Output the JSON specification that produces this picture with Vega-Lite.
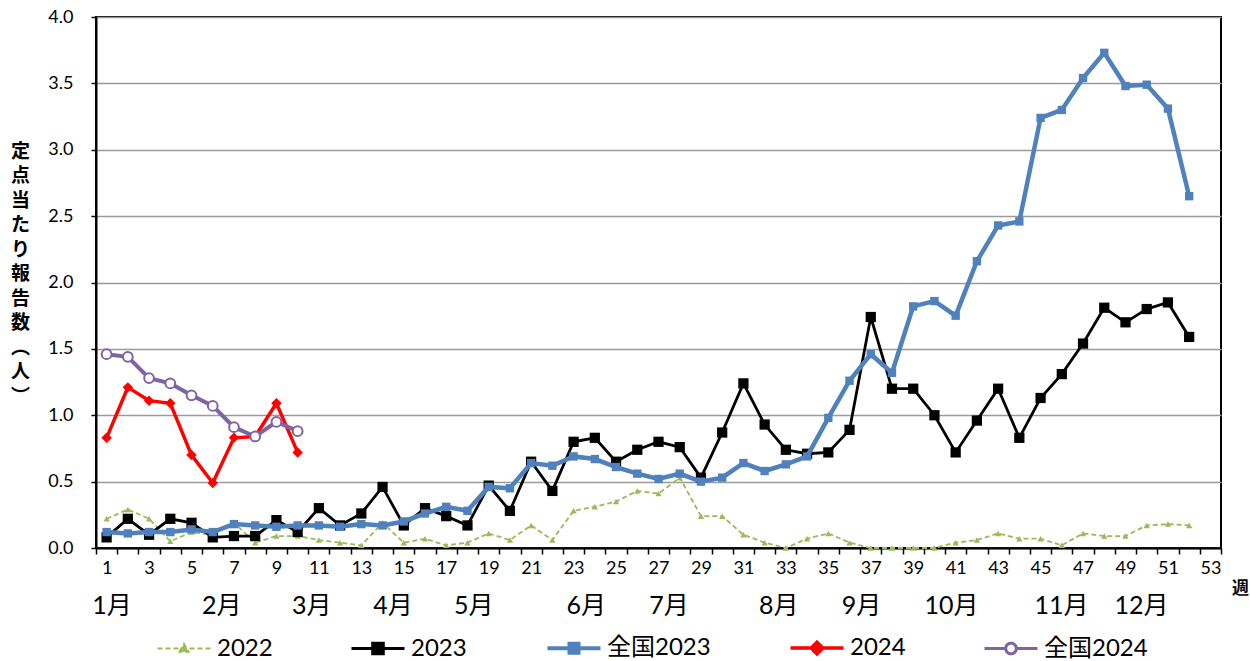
{
  "$schema": "https://vega.github.io/schema/vega-lite/v6.json",
  "autosize": {"type": "none"},
  "padding": {"left": 96, "top": 17, "right": 29, "bottom": 113},
  "width": 1125,
  "height": 531,
  "background": "white",
  "config": {
    "font": "Lato, Noto Sans CJK JP, sans-serif",
    "view": {"stroke": "#000000", "strokeWidth": 2}
  },
  "datasets": {
    "series": [
      {"week":1,"series":"2022","value":0.22},{"week":2,"series":"2022","value":0.29},{"week":3,"series":"2022","value":0.22},{"week":4,"series":"2022","value":0.05},{"week":5,"series":"2022","value":0.12},{"week":6,"series":"2022","value":0.10},{"week":7,"series":"2022","value":0.19},{"week":8,"series":"2022","value":0.04},{"week":9,"series":"2022","value":0.09},{"week":10,"series":"2022","value":0.09},{"week":11,"series":"2022","value":0.06},{"week":12,"series":"2022","value":0.04},{"week":13,"series":"2022","value":0.02},{"week":14,"series":"2022","value":0.19},{"week":15,"series":"2022","value":0.04},{"week":16,"series":"2022","value":0.07},{"week":17,"series":"2022","value":0.02},{"week":18,"series":"2022","value":0.04},{"week":19,"series":"2022","value":0.11},{"week":20,"series":"2022","value":0.06},{"week":21,"series":"2022","value":0.17},{"week":22,"series":"2022","value":0.06},{"week":23,"series":"2022","value":0.28},{"week":24,"series":"2022","value":0.31},{"week":25,"series":"2022","value":0.35},{"week":26,"series":"2022","value":0.43},{"week":27,"series":"2022","value":0.41},{"week":28,"series":"2022","value":0.53},{"week":29,"series":"2022","value":0.24},{"week":30,"series":"2022","value":0.24},{"week":31,"series":"2022","value":0.10},{"week":32,"series":"2022","value":0.04},{"week":33,"series":"2022","value":0.00},{"week":34,"series":"2022","value":0.07},{"week":35,"series":"2022","value":0.11},{"week":36,"series":"2022","value":0.04},{"week":37,"series":"2022","value":0.00},{"week":38,"series":"2022","value":0.00},{"week":39,"series":"2022","value":0.00},{"week":40,"series":"2022","value":0.00},{"week":41,"series":"2022","value":0.04},{"week":42,"series":"2022","value":0.06},{"week":43,"series":"2022","value":0.11},{"week":44,"series":"2022","value":0.07},{"week":45,"series":"2022","value":0.07},{"week":46,"series":"2022","value":0.02},{"week":47,"series":"2022","value":0.11},{"week":48,"series":"2022","value":0.09},{"week":49,"series":"2022","value":0.09},{"week":50,"series":"2022","value":0.17},{"week":51,"series":"2022","value":0.18},{"week":52,"series":"2022","value":0.17},
      {"week":1,"series":"2023","value":0.08},{"week":2,"series":"2023","value":0.22},{"week":3,"series":"2023","value":0.10},{"week":4,"series":"2023","value":0.22},{"week":5,"series":"2023","value":0.19},{"week":6,"series":"2023","value":0.08},{"week":7,"series":"2023","value":0.09},{"week":8,"series":"2023","value":0.09},{"week":9,"series":"2023","value":0.21},{"week":10,"series":"2023","value":0.12},{"week":11,"series":"2023","value":0.30},{"week":12,"series":"2023","value":0.17},{"week":13,"series":"2023","value":0.26},{"week":14,"series":"2023","value":0.46},{"week":15,"series":"2023","value":0.17},{"week":16,"series":"2023","value":0.30},{"week":17,"series":"2023","value":0.24},{"week":18,"series":"2023","value":0.17},{"week":19,"series":"2023","value":0.47},{"week":20,"series":"2023","value":0.28},{"week":21,"series":"2023","value":0.65},{"week":22,"series":"2023","value":0.43},{"week":23,"series":"2023","value":0.80},{"week":24,"series":"2023","value":0.83},{"week":25,"series":"2023","value":0.65},{"week":26,"series":"2023","value":0.74},{"week":27,"series":"2023","value":0.80},{"week":28,"series":"2023","value":0.76},{"week":29,"series":"2023","value":0.53},{"week":30,"series":"2023","value":0.87},{"week":31,"series":"2023","value":1.24},{"week":32,"series":"2023","value":0.93},{"week":33,"series":"2023","value":0.74},{"week":34,"series":"2023","value":0.71},{"week":35,"series":"2023","value":0.72},{"week":36,"series":"2023","value":0.89},{"week":37,"series":"2023","value":1.74},{"week":38,"series":"2023","value":1.20},{"week":39,"series":"2023","value":1.20},{"week":40,"series":"2023","value":1.00},{"week":41,"series":"2023","value":0.72},{"week":42,"series":"2023","value":0.96},{"week":43,"series":"2023","value":1.20},{"week":44,"series":"2023","value":0.83},{"week":45,"series":"2023","value":1.13},{"week":46,"series":"2023","value":1.31},{"week":47,"series":"2023","value":1.54},{"week":48,"series":"2023","value":1.81},{"week":49,"series":"2023","value":1.70},{"week":50,"series":"2023","value":1.80},{"week":51,"series":"2023","value":1.85},{"week":52,"series":"2023","value":1.59},
      {"week":1,"series":"全国2023","value":0.12},{"week":2,"series":"全国2023","value":0.11},{"week":3,"series":"全国2023","value":0.12},{"week":4,"series":"全国2023","value":0.12},{"week":5,"series":"全国2023","value":0.14},{"week":6,"series":"全国2023","value":0.12},{"week":7,"series":"全国2023","value":0.18},{"week":8,"series":"全国2023","value":0.17},{"week":9,"series":"全国2023","value":0.16},{"week":10,"series":"全国2023","value":0.17},{"week":11,"series":"全国2023","value":0.17},{"week":12,"series":"全国2023","value":0.16},{"week":13,"series":"全国2023","value":0.18},{"week":14,"series":"全国2023","value":0.17},{"week":15,"series":"全国2023","value":0.20},{"week":16,"series":"全国2023","value":0.26},{"week":17,"series":"全国2023","value":0.31},{"week":18,"series":"全国2023","value":0.28},{"week":19,"series":"全国2023","value":0.46},{"week":20,"series":"全国2023","value":0.45},{"week":21,"series":"全国2023","value":0.64},{"week":22,"series":"全国2023","value":0.62},{"week":23,"series":"全国2023","value":0.69},{"week":24,"series":"全国2023","value":0.67},{"week":25,"series":"全国2023","value":0.61},{"week":26,"series":"全国2023","value":0.56},{"week":27,"series":"全国2023","value":0.52},{"week":28,"series":"全国2023","value":0.56},{"week":29,"series":"全国2023","value":0.50},{"week":30,"series":"全国2023","value":0.53},{"week":31,"series":"全国2023","value":0.64},{"week":32,"series":"全国2023","value":0.58},{"week":33,"series":"全国2023","value":0.63},{"week":34,"series":"全国2023","value":0.69},{"week":35,"series":"全国2023","value":0.98},{"week":36,"series":"全国2023","value":1.26},{"week":37,"series":"全国2023","value":1.46},{"week":38,"series":"全国2023","value":1.32},{"week":39,"series":"全国2023","value":1.82},{"week":40,"series":"全国2023","value":1.86},{"week":41,"series":"全国2023","value":1.75},{"week":42,"series":"全国2023","value":2.16},{"week":43,"series":"全国2023","value":2.43},{"week":44,"series":"全国2023","value":2.46},{"week":45,"series":"全国2023","value":3.24},{"week":46,"series":"全国2023","value":3.30},{"week":47,"series":"全国2023","value":3.54},{"week":48,"series":"全国2023","value":3.73},{"week":49,"series":"全国2023","value":3.48},{"week":50,"series":"全国2023","value":3.49},{"week":51,"series":"全国2023","value":3.31},{"week":52,"series":"全国2023","value":2.65},
      {"week":1,"series":"2024","value":0.83},{"week":2,"series":"2024","value":1.21},{"week":3,"series":"2024","value":1.11},{"week":4,"series":"2024","value":1.09},{"week":5,"series":"2024","value":0.70},{"week":6,"series":"2024","value":0.49},{"week":7,"series":"2024","value":0.83},{"week":8,"series":"2024","value":0.84},{"week":9,"series":"2024","value":1.09},{"week":10,"series":"2024","value":0.72},
      {"week":1,"series":"全国2024","value":1.46},{"week":2,"series":"全国2024","value":1.44},{"week":3,"series":"全国2024","value":1.28},{"week":4,"series":"全国2024","value":1.24},{"week":5,"series":"全国2024","value":1.15},{"week":6,"series":"全国2024","value":1.07},{"week":7,"series":"全国2024","value":0.91},{"week":8,"series":"全国2024","value":0.84},{"week":9,"series":"全国2024","value":0.95},{"week":10,"series":"全国2024","value":0.88}
    ],
    "months": [
      {"month":"1月","week":1.25},{"month":"2月","week":6.42},{"month":"3月","week":10.66},{"month":"4月","week":14.49},{"month":"5月","week":18.3},{"month":"6月","week":23.6},{"month":"7月","week":27.5},{"month":"8月","week":32.67},{"month":"9月","week":36.56},{"month":"10月","week":40.8},{"month":"11月","week":45.99},{"month":"12月","week":49.75}
    ]
  },
  "encoding": {
    "x": {
      "field": "week",
      "type": "quantitative",
      "scale": {"domain": [0.5, 53.5], "nice": false, "zero": false},
      "axis": {
        "values": [0.5,1.5,2.5,3.5,4.5,5.5,6.5,7.5,8.5,9.5,10.5,11.5,12.5,13.5,14.5,15.5,16.5,17.5,18.5,19.5,20.5,21.5,22.5,23.5,24.5,25.5,26.5,27.5,28.5,29.5,30.5,31.5,32.5,33.5,34.5,35.5,36.5,37.5,38.5,39.5,40.5,41.5,42.5,43.5,44.5,45.5,46.5,47.5,48.5,49.5,50.5,51.5,52.5,53.5],
        "labelExpr": "(datum.value + 0.5) % 2 == 1 ? format(datum.value + 0.5, 'd') : ''",
        "labelOffset": 10.6,
        "labelOverlap": false,
        "labelFlush": false,
        "labelBound": false,
        "labelFontSize": 18,
        "labelColor": "#000000",
        "labelPadding": 5,
        "grid": false,
        "tickSize": 6,
        "tickWidth": 1.5,
        "tickColor": "#000000",
        "domainColor": "#000000",
        "domainWidth": 2,
        "title": "週",
        "titleX": 1144,
        "titleY": 40,
        "titleAlign": "center",
        "titleBaseline": "middle",
        "titleFontSize": 17,
        "titleFontWeight": "bold",
        "titleColor": "#000000",
        "titleFont": "Noto Sans CJK JP"
      }
    }
  },
  "layer": [
    {
      "data": {"name": "series"},
      "transform": [{"filter": "datum.series === '2022'"}],
      "mark": {"type": "line", "strokeWidth": 1.8, "strokeDash": [5, 3]},
      "encoding": {
        "y": {
          "field": "value",
          "type": "quantitative",
          "scale": {"domain": [0, 4], "nice": false},
          "axis": {
            "values": [0, 0.5, 1, 1.5, 2, 2.5, 3, 3.5, 4],
            "format": ".1f",
            "grid": true,
            "gridColor": "#9a9a9a",
            "gridWidth": 1.3,
            "domainColor": "#000000",
            "domainWidth": 2,
            "tickSize": 5,
            "tickColor": "#000000",
            "tickWidth": 1.5,
            "labelFontSize": 18,
            "labelColor": "#000000",
            "labelPadding": 18,
            "labelOverlap": false,
            "labelFlush": false,
            "title": ["定", "点", "当", "た", "り", "報", "告", "数", "︵", "人", "︶"],
            "titleAngle": 0,
            "titleX": -76,
            "titleY": 125,
            "titleAlign": "center",
            "titleBaseline": "top",
            "titleFontSize": 19,
            "titleFontWeight": "bold",
            "titleLineHeight": 24.5,
            "titleColor": "#000000",
            "titleFont": "Noto Sans CJK JP"
          }
        },
        "color": {
          "field": "series",
          "type": "nominal",
          "scale": {"domain": ["2022", "2023", "全国2023", "2024", "全国2024"], "range": ["#9BBB59", "#000000", "#4F81BD", "#FF0000", "#8064A2"]},
          "legend": {
            "orient": "none",
            "legendX": 60,
            "legendY": 603,
            "direction": "horizontal",
            "columns": 5,
            "columnPadding": 72,
            "title": null,
            "padding": 0,
            "labelFontSize": 24,
            "labelColor": "#000000",
            "labelOffset": 5,
            "symbolSize": 2809,
            "symbolStrokeWidth": 3,
            "symbolType": "M-1,0H1",
            "encode": {
              "symbols": {
                "update": {
                  "size": {"value": 2809},
                  "shape": {"signal": "(datum.value === '2022' ? 'M-1,0H1M-0.17,0.12L0,-0.17L0.17,0.12Z' : datum.value === '2023' ? 'M-1,0H1M-0.2,-0.2H0.2V0.2H-0.2Z' : datum.value === '全国2023' ? 'M-1,0H1M-0.17,-0.17H0.17V0.17H-0.17Z' : datum.value === '2024' ? 'M-1,0H1M0,-0.22L0.22,0L0,0.22L-0.22,0Z' : 'M-1,0H-0.2M0.2,0H1M0.2,0A0.2,0.2 0 1,1 -0.2,0A0.2,0.2 0 1,1 0.2,0Z')"},
                  "fill": {"signal": "(datum.value === '2022' ? '#9BBB59' : datum.value === '2023' ? '#000000' : datum.value === '全国2023' ? '#4F81BD' : datum.value === '2024' ? '#FF0000' : '#FFFFFF')"},
                  "stroke": {"signal": "(datum.value === '2022' ? '#9BBB59' : datum.value === '2023' ? '#000000' : datum.value === '全国2023' ? '#4F81BD' : datum.value === '2024' ? '#FF0000' : '#8064A2')"},
                  "strokeWidth": {"signal": "(datum.value === '2022' ? 2 : datum.value === '2023' ? 3 : datum.value === '全国2023' ? 4 : datum.value === '2024' ? 3.5 : 3)"},
                  "strokeDash": {"signal": "(datum.value === '2022' ? [5, 3] : [1, 0])"},
                  "opacity": {"value": 1},
                  "fillOpacity": {"value": 1}
                }
              }
            }
          }
        }
      }
    },
    {
      "data": {"name": "series"},
      "transform": [{"filter": "datum.series === '2022'"}],
      "mark": {"type": "point", "shape": "triangle-up", "size": 40, "filled": true, "color": "#9BBB59", "opacity": 1},
      "encoding": {"y": {"field": "value", "type": "quantitative"}}
    },
    {
      "data": {"name": "series"},
      "transform": [{"filter": "datum.series === '2023'"}],
      "mark": {"type": "line", "strokeWidth": 2.8},
      "encoding": {"y": {"field": "value", "type": "quantitative"}, "color": {"field": "series", "type": "nominal"}}
    },
    {
      "data": {"name": "series"},
      "transform": [{"filter": "datum.series === '2023'"}],
      "mark": {"type": "point", "shape": "square", "size": 105, "filled": true, "color": "#000000", "opacity": 1},
      "encoding": {"y": {"field": "value", "type": "quantitative"}}
    },
    {
      "data": {"name": "series"},
      "transform": [{"filter": "datum.series === '全国2023'"}],
      "mark": {"type": "line", "strokeWidth": 4.5},
      "encoding": {"y": {"field": "value", "type": "quantitative"}, "color": {"field": "series", "type": "nominal"}}
    },
    {
      "data": {"name": "series"},
      "transform": [{"filter": "datum.series === '全国2023'"}],
      "mark": {"type": "point", "shape": "square", "size": 70, "filled": true, "color": "#4F81BD", "opacity": 1},
      "encoding": {"y": {"field": "value", "type": "quantitative"}}
    },
    {
      "data": {"name": "series"},
      "transform": [{"filter": "datum.series === '2024'"}],
      "mark": {"type": "line", "strokeWidth": 3.5},
      "encoding": {"y": {"field": "value", "type": "quantitative"}, "color": {"field": "series", "type": "nominal"}}
    },
    {
      "data": {"name": "series"},
      "transform": [{"filter": "datum.series === '2024'"}],
      "mark": {"type": "point", "shape": "diamond", "size": 110, "filled": true, "color": "#FF0000", "opacity": 1},
      "encoding": {"y": {"field": "value", "type": "quantitative"}}
    },
    {
      "data": {"name": "series"},
      "transform": [{"filter": "datum.series === '全国2024'"}],
      "mark": {"type": "line", "strokeWidth": 4},
      "encoding": {"y": {"field": "value", "type": "quantitative"}, "color": {"field": "series", "type": "nominal"}}
    },
    {
      "data": {"name": "series"},
      "transform": [{"filter": "datum.series === '全国2024'"}],
      "mark": {"type": "point", "shape": "circle", "size": 95, "filled": false, "fill": "#FFFFFF", "stroke": "#8064A2", "strokeWidth": 2, "opacity": 1},
      "encoding": {"y": {"field": "value", "type": "quantitative"}}
    },
    {
      "data": {"name": "months"},
      "mark": {"type": "text", "fontSize": 25, "align": "center", "baseline": "middle", "color": "#000000"},
      "encoding": {
        "y": {"datum": -0.44},
        "text": {"field": "month", "type": "nominal"}
      }
    }
  ]
}
